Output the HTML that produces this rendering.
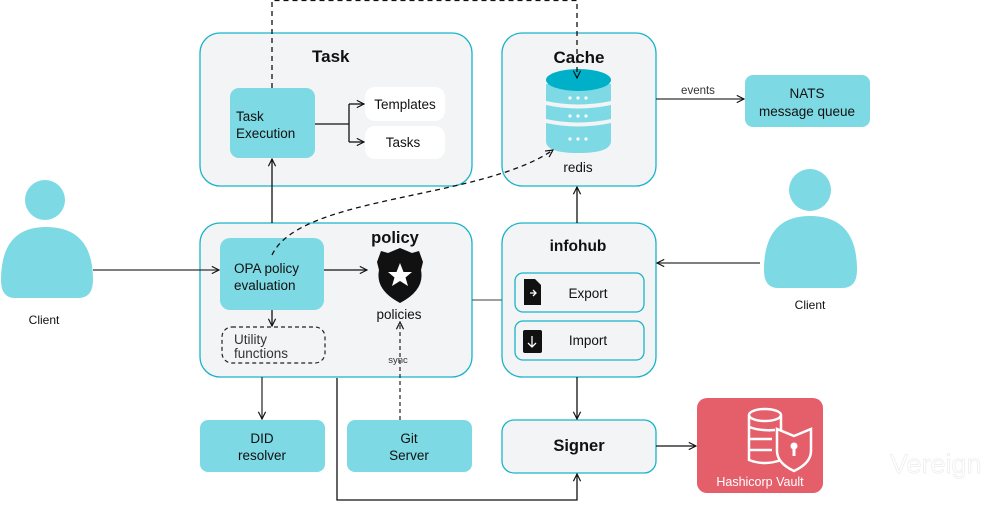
<!DOCTYPE html>
<html><head><style>
body{margin:0;width:993px;height:504px;background:#fff;overflow:hidden;font-family:"Liberation Sans",sans-serif}
</style></head><body>
<svg width="993" height="504" xmlns="http://www.w3.org/2000/svg" font-family="Liberation Sans, sans-serif">
<defs>
<marker id="a" viewBox="0 0 10 10" refX="9" refY="5" markerWidth="9" markerHeight="9" orient="auto-start-reverse" markerUnits="userSpaceOnUse"><path d="M1,1 L9,5 L1,9" fill="none" stroke="#111" stroke-width="1.3"/></marker>
</defs>
<g fill="#f3f4f6" stroke="#1ab3c8" stroke-width="1.3">
<rect x="200" y="33" width="272" height="153" rx="20"/>
<rect x="502" y="33" width="154" height="153" rx="20"/>
<rect x="200" y="223" width="272" height="154" rx="20"/>
<rect x="502" y="223" width="154" height="154" rx="20"/>
<rect x="502" y="420" width="154" height="53" rx="12"/>
<rect x="515" y="273" width="129" height="39" rx="8"/>
<rect x="515" y="321" width="129" height="39" rx="8"/>
</g>
<g fill="#7dd9e3">
<rect x="745" y="75" width="125" height="52" rx="8"/>
<rect x="230" y="88" width="85" height="70" rx="9"/>
<rect x="220" y="238" width="104" height="72" rx="10"/>
<rect x="200" y="420" width="125" height="52" rx="8"/>
<rect x="347" y="420" width="125" height="52" rx="8"/>
</g>
<rect x="365" y="87" width="80" height="34" rx="10" fill="#fff"/>
<rect x="365" y="126" width="80" height="33" rx="10" fill="#fff"/>
<rect x="222" y="327" width="103" height="36" rx="10" fill="none" stroke="#222" stroke-dasharray="4,3" stroke-width="1.2"/>
<rect x="697" y="398" width="126" height="95" rx="10" fill="#e55f6b"/>
<!-- database -->
<g fill="#7dd9e3">
<path d="M546,84 H611 V101 Q578,108 546,101 Z"/>
<path d="M546,105 Q578,112 611,105 V119 Q578,126 546,119 Z"/>
<path d="M546,123 Q578,130 611,123 V141 Q611,153 578,153 Q546,153 546,141 Z"/>
</g>
<ellipse cx="578.5" cy="80" rx="32.5" ry="11" fill="#00b0c8"/>
<g fill="#fff"><circle cx="570" cy="98" r="1.6"/><circle cx="578" cy="98" r="1.6"/><circle cx="586" cy="98" r="1.6"/>
<circle cx="570" cy="116" r="1.6"/><circle cx="578" cy="116" r="1.6"/><circle cx="586" cy="116" r="1.6"/>
<circle cx="570" cy="139" r="1.6"/><circle cx="578" cy="139" r="1.6"/><circle cx="586" cy="139" r="1.6"/></g>
<g stroke="#111" stroke-width="1.3" fill="none">
<path d="M272,88 V0.5 H577 V78" stroke-dasharray="5,4" marker-end="url(#a)"/>
<path d="M272,255 C300,195 480,200 553,150" stroke-dasharray="5,4" marker-end="url(#a)"/>
<path d="M315,124 H349 M349,104 V142"/>
<path d="M349,104 H364" marker-end="url(#a)"/>
<path d="M349,142 H364" marker-end="url(#a)"/>
<path d="M272,223 V159" marker-end="url(#a)"/>
<path d="M656,99 H744" stroke="#333" marker-end="url(#a)"/>
<path d="M577,223 V187" marker-end="url(#a)"/>
<path d="M760,263 H657" stroke="#333" marker-end="url(#a)"/>
<path d="M93,270 H219" stroke="#333" marker-end="url(#a)"/>
<path d="M324,270 H367" marker-end="url(#a)"/>
<path d="M472,300 H502" stroke="#666"/>
<path d="M272,310 V326" marker-end="url(#a)"/>
<path d="M262,377 V419" stroke="#333" marker-end="url(#a)"/>
<path d="M400,420 V322" stroke-dasharray="4,3" stroke="#333" marker-end="url(#a)"/>
<path d="M577,377 V419" marker-end="url(#a)"/>
<path d="M656,446 H696" marker-end="url(#a)"/>
<path d="M337,378 V500 H577 V474" marker-end="url(#a)"/>
</g>
<path d="M381,251 L388,253 L400,248 L412,253 L419,251 L423,262 L421,270 Q425,290 400,303 Q375,290 379,270 L377,262 Z" fill="#111"/>
<polygon points="400,263 403.5,272 412,272 405.5,277.5 408,286 400,281 392,286 394.5,277.5 388,272 396.5,272" fill="#fff"/>
<path d="M524,279 H535 L541,285 V305 H524 Z" fill="#111"/>
<path d="M530,293 H536 M533,290 L536,293 L533,296" stroke="#fff" stroke-width="1.3" fill="none"/>
<rect x="523" y="330" width="19" height="23" rx="2" fill="#111"/>
<path d="M532,336 V347 M528,343 L532,347 L536,343" stroke="#fff" stroke-width="1.3" fill="none"/>
<g fill="none" stroke="#fff" stroke-width="2.5">
<ellipse cx="765" cy="415" rx="16" ry="6"/>
<path d="M749,415 V460 Q765,466 781,460 M781,415 V431"/>
<path d="M749,427 Q760,431 775,430 M749,439 H772 M749,450 H772"/>
<path d="M794,436 L811,429 L811,451 Q811,463 794,471 Q777,463 777,451 L777,429 Z" fill="#e55f6b"/>
</g>
<circle cx="794" cy="446" r="3.5" fill="#fff"/><rect x="792.5" y="447" width="3" height="9" fill="#fff"/>
<g fill="#7dd9e3">
<circle cx="45" cy="200" r="20"/>
<path d="M1,280 Q1,227 46,227 Q93,227 93,280 Q93,298 78,298 H15 Q1,298 1,280 Z"/>
<circle cx="810" cy="190" r="21"/>
<path d="M764,270 Q764,216 810,216 Q857,216 857,270 Q857,288 842,288 H778 Q764,288 764,270 Z"/>
</g>
<g fill="#111" font-size="13.5">
<text x="312" y="62" font-size="17" font-weight="bold">Task</text>
<text x="579" y="63" font-size="17" font-weight="bold" text-anchor="middle">Cache</text>
<text x="236" y="121">Task</text><text x="236" y="138">Execution</text>
<text x="405" y="109" text-anchor="middle">Templates</text>
<text x="403" y="147" text-anchor="middle">Tasks</text>
<text x="578" y="172" text-anchor="middle">redis</text>
<text x="698" y="94" font-size="11.5" fill="#333" text-anchor="middle">events</text>
<text x="807" y="98" text-anchor="middle">NATS</text>
<text x="807" y="116" text-anchor="middle">message queue</text>
<text x="395" y="243" font-size="16.5" font-weight="bold" text-anchor="middle">policy</text>
<text x="399" y="319" text-anchor="middle">policies</text>
<text x="234" y="273">OPA policy</text><text x="234" y="290">evaluation</text>
<text x="234" y="344" fill="#333">Utility</text><text x="234" y="358" fill="#333">functions</text>
<text x="398" y="363" font-size="9.5" fill="#333" text-anchor="middle">sync</text>
<text x="578" y="251" font-size="15.5" font-weight="bold" text-anchor="middle">infohub</text>
<text x="588" y="298" text-anchor="middle">Export</text>
<text x="588" y="345" text-anchor="middle">Import</text>
<text x="262" y="443" text-anchor="middle">DID</text><text x="262" y="460" text-anchor="middle">resolver</text>
<text x="409" y="443" text-anchor="middle">Git</text><text x="409" y="460" text-anchor="middle">Server</text>
<text x="579" y="451" font-size="16.5" font-weight="bold" text-anchor="middle">Signer</text>
<text x="760" y="486" font-size="12.5" fill="#fff" text-anchor="middle">Hashicorp Vault</text>
<text x="44" y="324" font-size="12" text-anchor="middle">Client</text>
<text x="810" y="309" font-size="12" text-anchor="middle">Client</text>
<text x="890" y="473" font-size="27" fill="#fff" stroke="#ececec" stroke-width="0.7">Vereign</text>
</g>
</svg>
</body></html>
